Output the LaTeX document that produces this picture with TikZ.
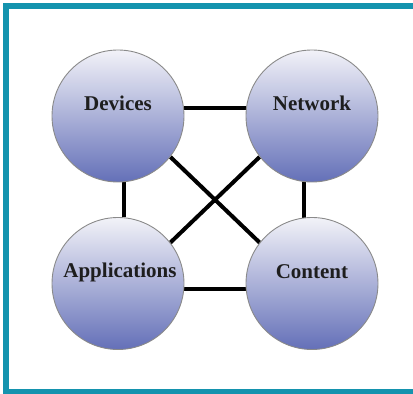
\documentclass[tikz,border=0pt]{standalone}
\usepackage{fontspec}
\setmainfont{Liberation Serif}
\usetikzlibrary{backgrounds}
\definecolor{framec}{HTML}{1493AE}
\definecolor{topc}{HTML}{F2F2F8}
\definecolor{botc}{HTML}{6470B8}
\definecolor{edgec}{HTML}{8A8A8A}
\definecolor{txtc}{HTML}{1E1E1E}
\tikzset{
  ball/.style={circle, minimum size=132pt, inner sep=0pt, draw=edgec, line width=0.9pt,
    top color=topc, bottom color=botc, shading angle=0},
  lbl/.style={font=\bfseries\fontsize{21}{23}\selectfont, text=txtc, inner sep=0pt},
  link/.style={line width=4pt, black}
}
\begin{document}
\begin{tikzpicture}[x=1pt,y=1pt]
\useasboundingbox (0,0) rectangle (413,394);
\fill[framec] (3,391) rectangle (413,385);
\fill[framec] (3,391) rectangle (9,0);
\fill[framec] (3,0) rectangle (413,5);
\node[ball, label={[lbl,yshift=13pt]center:Devices}] (dev) at (118,278) {};
\node[ball, label={[lbl,yshift=13pt]center:Network}] (net) at (312,278) {};
\node[ball, label={[lbl,yshift=11pt,xshift=2pt]center:Applications}] (app) at (118,110.5) {};
\node[ball, label={[lbl,yshift=11.5pt]center:Content}] (con) at (312,110.5) {};
\begin{scope}[on background layer]
\draw[link] (dev.7) -- (net.173);
\draw[link] (app.-5) -- (con.-175);
\draw[link] (dev.-85) -- (app.85);
\draw[link] (net.-97) -- (con.97);
\draw[link] (dev.-38) -- (con.142);
\draw[link] (net.-142) -- (app.38);
\end{scope}
\end{tikzpicture}
\end{document}
